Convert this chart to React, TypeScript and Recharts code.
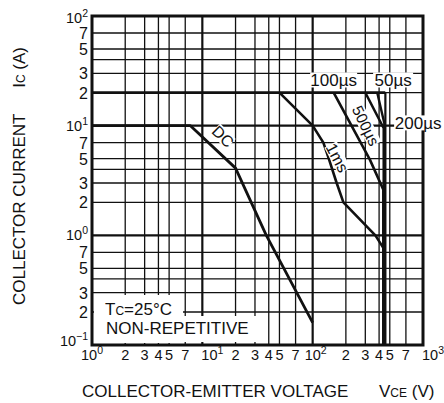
import React from "react"
import {
  LineChart,
  Line,
  XAxis,
  YAxis,
  ReferenceLine,
  ReferenceArea,
  ReferenceDot,
} from "recharts"

// axis ticks and grid (log-log, 1..1000 V, 0.1..100 A)
const X_TICKS = [1, 2, 3, 4, 5, 7, 10, 20, 30, 40, 50, 70, 100, 200, 300, 400, 500, 700, 1000]
const Y_TICKS = [0.1, 0.2, 0.3, 0.5, 0.7, 1, 2, 3, 5, 7, 10, 20, 30, 50, 70, 100]
const X_MINOR = [2, 3, 4, 5, 7, 20, 30, 40, 50, 70, 200, 300, 400, 500, 700]
const Y_MINOR = [0.2, 0.3, 0.4, 0.5, 0.7, 2, 3, 4, 5, 7, 20, 30, 40, 50, 70]
const X_DECADES = [10, 100]
const Y_DECADES = [1, 10]

// safe operating area curves (V, A)
const ICP_V = [1, 455]
const ICP_I = [20, 20]
const DC_V = [1, 7.8, 20, 38, 100]
const DC_I = [10, 10, 4.1, 1, 0.16]
const MS1_V = [50, 100, 125, 140, 165, 190, 370, 440, 440]
const MS1_I = [20, 10, 7, 5, 3, 2, 1, 0.76, 0.1]
const US500_V = [155, 330, 437, 437]
const US500_I = [20, 4.9, 2.6, 0.1]
const US200_V = [300, 440, 440]
const US200_I = [20, 9.5, 0.1]
const US100_V = [385, 446, 446]
const US100_I = [20, 10.5, 0.1]
const US50_V = [456, 456]
const US50_I = [20, 0.1]

const pts = (vs: number[], is: number[]) => vs.map((v, k) => ({ v, i: is[k] }))

const FONT = "'Liberation Sans', Arial, Helvetica, sans-serif"
const INK = "#111"

function decadeOf(v: number) {
  const e = Math.log10(v)
  const r = Math.round(e)
  return Math.abs(e - r) < 1e-6 ? r : null
}

function XTick(props: any) {
  const { x, y, payload } = props
  const v = payload.value as number
  const e = decadeOf(v)
  if (e !== null) {
    const dx = [0, 10, 3, 10][e] ?? 0
    return (
      <text x={x + dx} y={y + 15} textAnchor="middle" fontSize={14.5} fill={INK} fontFamily={FONT}>
        10<tspan dy={-6} fontSize={10.5}>{e}</tspan>
      </text>
    )
  }
  const m = Math.round(v / 10 ** Math.floor(Math.log10(v)))
  return (
    <text x={x} y={y + 15} textAnchor="middle" fontSize={14.5} fill={INK} fontFamily={FONT}>
      {m}
    </text>
  )
}

function YTick(props: any) {
  const { x, y, payload } = props
  const v = payload.value as number
  const e = decadeOf(v)
  if (e !== null) {
    const lift = e === -1 ? -4 : e === 2 ? 2 : 0
    return (
      <text x={x - 4} y={y + 5 + lift} textAnchor="end" fontSize={14.5} fill={INK} fontFamily={FONT}>
        10<tspan dy={-6} fontSize={10.5}>{e < 0 ? "\u2212" + -e : e}</tspan>
      </text>
    )
  }
  const m = Math.round(v / 10 ** Math.floor(Math.log10(v)))
  return (
    <text x={x - 4} y={y + 6} textAnchor="end" fontSize={16} fill={INK} fontFamily={FONT}>
      {m}
    </text>
  )
}

function XTitle() {
  return (
    <g fontFamily={FONT} fill={INK}>
      <text x={82} y={397} fontSize={17}>COLLECTOR-EMITTER VOLTAGE</text>
      <text x={379} y={397} fontSize={17}>
        V<tspan fontSize={12}>CE</tspan> (V)
      </text>
    </g>
  )
}

function YTitle() {
  return (
    <g fontFamily={FONT} fill={INK}>
      <text x={0} y={0} fontSize={17} transform="translate(25,305) rotate(-90)">
        COLLECTOR CURRENT
      </text>
      <text x={0} y={0} fontSize={17} textAnchor="end" transform="translate(25,47) rotate(-90)">
        I<tspan fontSize={12}>C</tspan>{"  "}(A)
      </text>
    </g>
  )
}

function Tag(props: any) {
  const { cx, cy, text, angle = 0, w, h, size = 16 } = props
  if (cx == null || cy == null) return null
  return (
    <g transform={`translate(${cx},${cy}) rotate(${angle})`}>
      <rect x={-w / 2} y={-h / 2} width={w} height={h} fill="#fff" />
      <text x={0} y={0} dy="0.36em" textAnchor="middle" fontSize={size} fill={INK} fontFamily={FONT}>
        {text}
      </text>
    </g>
  )
}

// conditions note, anchored on the lower-left plot corner
function NoteShape(props: any) {
  const { cx, cy } = props
  if (cx == null || cy == null) return null
  return (
    <g fontFamily={FONT} fill={INK} fontSize={17}>
      <rect x={cx + 2} y={cy - 50} width={89} height={48} fill="#fff" />
      <rect x={cx + 90} y={cy - 29} width={76} height={26} fill="#fff" />
      <text x={cx + 13} y={cy - 30}>
        T<tspan fontSize={12}>C</tspan>=25°C
      </text>
      <text x={cx + 14} y={cy - 11}>NON-REPETITIVE</text>
    </g>
  )
}

const series = [
  { key: "icp", data: pts(ICP_V, ICP_I), w: 2.8 },
  { key: "dc", data: pts(DC_V, DC_I), w: 2.8 },
  { key: "ms1", data: pts(MS1_V, MS1_I), w: 2.6 },
  { key: "us500", data: pts(US500_V, US500_I), w: 2.6 },
  { key: "us200", data: pts(US200_V, US200_I), w: 2.4 },
  { key: "us100", data: pts(US100_V, US100_I), w: 2.4 },
  { key: "us50", data: pts(US50_V, US50_I), w: 2.2 },
]

export default function App() {
  return (
    <div style={{ position: "absolute", left: 0, top: 0, width: 444, height: 403, background: "#fff" }}>
      <LineChart
        width={444}
        height={403}
        margin={{ top: 16, right: 21, bottom: 0, left: 0 }}
        style={{ fontFamily: FONT }}
      >
        <XAxis
          dataKey="v"
          type="number"
          scale="log"
          domain={[1, 1000]}
          allowDataOverflow
          ticks={X_TICKS}
          interval={0}
          tick={<XTick />}
          tickLine={false}
          axisLine={false}
          tickSize={0}
          tickMargin={0}
          height={58}
          label={<XTitle />}
        />
        <YAxis
          dataKey="i"
          type="number"
          scale="log"
          domain={[0.1, 100]}
          allowDataOverflow
          ticks={Y_TICKS}
          interval={0}
          tick={<YTick />}
          tickLine={false}
          axisLine={false}
          tickSize={0}
          tickMargin={0}
          width={92}
          label={<YTitle />}
        />
        {X_MINOR.map(v => (
          <ReferenceLine key={"xm" + v} x={v} stroke={INK} strokeWidth={1.3} />
        ))}
        {Y_MINOR.map(v => (
          <ReferenceLine key={"ym" + v} y={v} stroke={INK} strokeWidth={1.3} />
        ))}
        {X_DECADES.map(v => (
          <ReferenceLine key={"xd" + v} x={v} stroke={INK} strokeWidth={2.2} />
        ))}
        {Y_DECADES.map(v => (
          <ReferenceLine key={"yd" + v} y={v} stroke={INK} strokeWidth={2.2} />
        ))}
        {series.map(s => (
          <Line
            key={s.key}
            data={s.data}
            dataKey="i"
            type="linear"
            stroke={INK}
            strokeWidth={s.w}
            strokeLinejoin="round"
            dot={false}
            activeDot={false}
            isAnimationActive={false}
          />
        ))}
        <ReferenceArea
          x1={1}
          x2={1000}
          y1={0.1}
          y2={100}
          fill="none"
          fillOpacity={0}
          stroke={INK}
          strokeWidth={3}
        />
        <ReferenceDot x={1} y={0.1} r={0} ifOverflow="visible" shape={(p: any) => <NoteShape {...p} />} />
        <ReferenceDot x={15.4} y={8} r={0} shape={(p: any) => <Tag {...p} text="DC" angle={45} w={22} h={14} size={16} />} />
        <ReferenceDot x={168} y={5.1} r={0} shape={(p: any) => <Tag {...p} text="1ms" angle={62} w={30} h={14} size={16} />} />
        <ReferenceDot x={303} y={10} r={0} shape={(p: any) => <Tag {...p} text="500µs" angle={64} w={42} h={14} size={15.5} />} />
        <ReferenceDot x={155} y={26.1} r={0} shape={(p: any) => <Tag {...p} text="100µs" w={47} h={15} size={17} />} />
        <ReferenceDot x={536} y={26.1} r={0} shape={(p: any) => <Tag {...p} text="50µs" w={40} h={15} size={17} />} />
        <ReferenceDot x={903} y={10.6} r={0} ifOverflow="visible" shape={(p: any) => <Tag {...p} text="200µs" w={48} h={15} size={17} />} />
      </LineChart>
    </div>
  )
}
